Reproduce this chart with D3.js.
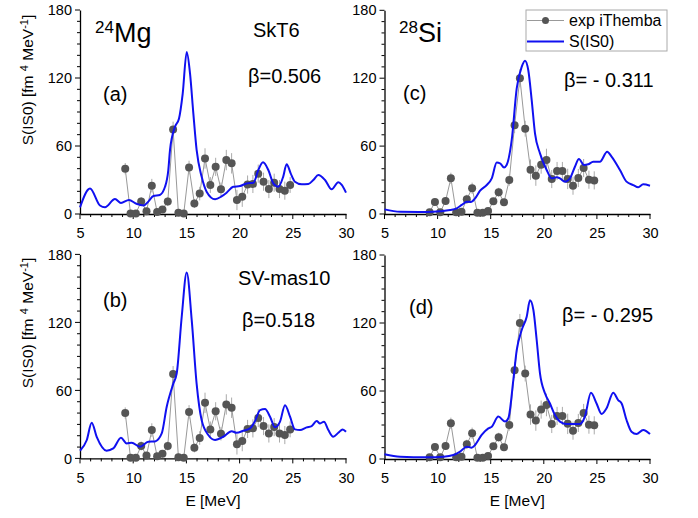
<!DOCTYPE html>
<html>
<head>
<meta charset="utf-8">
<script src="https://cdn.jsdelivr.net/npm/d3@7"></script>
<style>
  html, body { margin: 0; padding: 0; background: #fff; }
  svg { display: block; font-family: "Liberation Sans", Arial, sans-serif; }
</style>
</head>
<body>
<svg id="chart" width="698" height="518"></svg>
<script>
// Experimental IS0 strength (iThemba LABS), energies in MeV
const expE = [9.25, 9.75, 10.25, 10.75, 11.25, 11.75, 12.25, 12.75, 13.25, 13.75, 14.25, 14.75,
              15.25, 15.75, 16.25, 16.75, 17.25, 17.75, 18.25, 18.75, 19.25, 19.75, 20.25, 20.75,
              21.25, 21.75, 22.25, 22.75, 23.25, 23.75, 24.25, 24.75];
const mgExpS = [40, 0.5, 0.5, 11, 2.5, 25, 1.8, 4, 11, 74.5, 1, 0.5,
                41, 9.3, 18, 49, 25.6, 41.6, 21.8, 47.6, 44.7, 12.4, 15.3, 26,
                26.5, 35.6, 28.5, 22, 27.6, 22, 20.6, 25.6];
const mgExpErr = [5, 2, 2, 4, 3, 6, 2, 3, 4, 7, 2, 2,
                  6, 4, 6, 9, 7, 8, 6, 9, 9, 9, 9, 8,
                  8, 8, 8, 8, 8, 8, 8, 7];
const siExpS = [1.5, 10.6, 1.5, 11.5, 31.5, 1.5, 2, 13, 22.7, 1, 1, 2.7,
                11.2, 19.2, 10.3, 30, 78.4, 120, 75.4, 39.2, 33.9, 43.6, 47.7, 30.9,
                38, 38, 31, 25, 31.8, 40.6, 30.3, 29.7];
const siExpErr = [2, 3, 2, 3, 5, 2, 2, 4, 5, 2, 2, 2,
                  3, 4, 3, 5, 7, 8, 7, 9, 9, 8, 10, 8,
                  8, 8, 9, 8, 8, 8, 8, 8];

// Calculated S(IS0) strength functions
const mgSkT6E = [5, 5.94, 6.88, 7.35, 8.29, 8.85, 9.6, 10.3, 11.0, 11.42, 11.9, 12.5, 12.99, 13.3, 13.46, 13.93,
                 14.3, 14.65, 15.03, 15.34, 15.65, 15.96, 16.43, 16.9, 17.7, 18.3, 18.78, 19.4, 20.04, 20.66,
                 21.3, 21.76, 22.2, 22.7, 23.17, 23.64, 24.1, 24.42, 24.8, 25.2, 25.83, 26.46, 26.93,
                 27.4, 28.03, 28.65, 29.28, 29.6, 30];
const mgSkT6S = [5.9, 22.6, 7.5, 6, 13.2, 9.8, 12.4, 9, 7.6, 10.9, 15.9, 16.8, 24, 38.8, 56.5, 77,
                 84, 106, 143, 124, 89, 56.5, 33, 19.7, 13, 15.5, 18.8, 24, 24.7, 27,
                 27.6, 38.8, 45.6, 38.8, 27, 24, 33, 44, 35.9, 28.5, 26.2, 26.5, 30,
                 34.4, 30, 21.8, 28, 25.6, 18.8];

const mgSvE = [5, 5.63, 6.1, 6.57, 7.5, 8.13, 8.85, 9.39, 9.86, 10.64, 11.42, 12.05, 12.68, 13.15, 13.77,
               14.09, 14.56, 15.03, 15.5, 15.96, 16.43, 17.06, 17.69, 18.47, 19.25, 19.72, 20.35, 20.98,
               21.45, 21.92, 22.39, 22.86, 23.33, 23.8, 24.27, 24.74, 25.2, 25.68, 26.3, 26.77, 27.24,
               27.56, 27.93, 28.34, 28.8, 29.28, 29.69, 30];
const mgSvS = [6.8, 16, 31.5, 19, 6.8, 8.8, 18.2, 13.2, 13.8, 10.3, 14.7, 15, 22, 45.6, 66,
               75, 125, 164, 122, 66, 33.8, 20.6, 16.2, 19.1, 24, 22.6, 24.4, 26.5,
               33, 42.6, 43.5, 36.8, 27.4, 32.4, 47, 36.8, 25.6, 25, 27.4, 28.5, 33,
               30.9, 32.4, 25, 19.1, 22.6, 25.6, 23.5];

const siSkT6E = [5, 6.47, 8.98, 10.24, 11.18, 11.8, 12.27, 12.75, 13.15, 13.53, 14, 14.63, 15.1, 15.57,
                 15.88, 16.26, 16.5, 16.98, 17.45, 17.92, 18.23, 18.54, 18.86, 19.17, 19.64, 20.27,
                 20.74, 21.21, 21.52, 21.99, 22.46, 22.93, 23.31, 23.78, 24.18, 24.65, 25.28, 25.97,
                 26.38, 27.17, 27.79, 28.42, 28.89, 29.36, 30];
const siSkT6S = [4.1, 2, 1.8, 2.4, 3.5, 5, 8, 10.9, 10.6, 13.8, 20.6, 25.6, 31.5, 45.4,
                 44.8, 41.2, 43.3, 65.4, 111, 130, 135.5, 127, 100.7, 71.3, 53.6, 38.9,
                 31.5, 32.4, 31.5, 28.6, 31.5, 41.8, 48.6, 43.3, 43.9, 46.2, 46.2, 55,
                 50.7, 38.9, 28.6, 25.6, 23.6, 26.2, 25];

const siSvE = [5, 6.47, 8.98, 10.55, 11.49, 12.12, 12.75, 13.2, 13.53, 14.15, 14.78, 15.1, 15.72,
               16.35, 16.66, 17.13, 17.45, 17.92, 18.39, 18.7, 19.02, 19.33, 19.64, 20.11, 20.58,
               21.05, 21.52, 22.15, 23.4, 23.87, 24.44, 24.97, 25.44, 25.91, 26.54, 27.0, 27.33,
               27.79, 28.26, 28.73, 29.36, 30];
const siSvS = [4.1, 2, 1.5, 2, 3.5, 6.5, 10.9, 10, 12.4, 21.2, 27, 28.5, 37.4,
               33, 35.9, 69.7, 96, 113.8, 125.6, 140, 131.5, 105, 75.6, 58, 49,
               38.8, 33, 30.9, 30.9, 37.4, 58.5, 49, 39.7, 44.7, 58.5, 52, 49,
               34.4, 24, 22, 25.6, 22];

// Axis ticks
const xTicks = [5, 10, 15, 20, 25, 30];
const yTicks = [0, 60, 120, 180];

const svg = d3.select("#chart");
const BLUE = "#1010f0";

const panels = [
  { left: 80,    right: 346, top: 10,    bottom: 214,   E: mgSkT6E, S: mgSkT6S, expS: mgExpS, expErr: mgExpErr, xTitle: false },
  { left: 384.5, right: 650, top: 10.3,  bottom: 214,   E: siSkT6E, S: siSkT6S, expS: siExpS, expErr: siExpErr, xTitle: false },
  { left: 80,    right: 346, top: 254.4, bottom: 458.4, E: mgSvE,   S: mgSvS,   expS: mgExpS, expErr: mgExpErr, xTitle: true },
  { left: 384.5, right: 650, top: 255,   bottom: 459,   E: siSvE,   S: siSvS,   expS: siExpS, expErr: siExpErr, xTitle: true }
];

panels.forEach(p => {
  const x = d3.scaleLinear().domain([5, 30]).range([p.left, p.right]);
  const y = d3.scaleLinear().domain([0, 180]).range([p.bottom, p.top]);
  const g = svg.append("g");

  // minor ticks
  const xMinor = d3.range(5, 30.01, 1);
  const yMinor = d3.range(0, 180.01, 10);
  g.append("g").selectAll("line").data(xMinor).join("line")
    .attr("x1", d => x(d)).attr("x2", d => x(d))
    .attr("y1", p.bottom).attr("y2", d => p.bottom + (d % 5 === 0 ? 5 : 3))
    .attr("stroke", "#000").attr("stroke-width", 1);
  g.append("g").selectAll("line").data(yMinor).join("line")
    .attr("y1", d => y(d)).attr("y2", d => y(d))
    .attr("x1", p.left).attr("x2", d => p.left - (d % 60 === 0 ? 5 : 3))
    .attr("stroke", "#000").attr("stroke-width", 1);

  // axis lines and labels
  const xAxis = d3.axisBottom(x).tickValues(xTicks).tickSize(0).tickPadding(14).tickFormat(d3.format("d"));
  const yAxis = d3.axisLeft(y).tickValues(yTicks).tickSize(0).tickPadding(8).tickFormat(d3.format("d"));
  const gx = g.append("g").attr("transform", `translate(0,${p.bottom})`).call(xAxis);
  const gy = g.append("g").attr("transform", `translate(${p.left},0)`).call(yAxis);
  [gx, gy].forEach(a => {
    a.select(".domain").attr("stroke", "#000").attr("stroke-width", 1.3);
    a.selectAll("text").attr("font-size", 14.5).attr("font-family", "Liberation Sans, Arial, sans-serif").attr("fill", "#000");
  });

  // experimental points: connecting line, error bars, markers
  const expLine = d3.line().x((d, i) => x(expE[i])).y(d => y(d));
  g.append("path").attr("d", expLine(p.expS))
    .attr("fill", "none").attr("stroke", "#999").attr("stroke-width", 1);
  g.append("g").selectAll("line").data(p.expS).join("line")
    .attr("x1", (d, i) => x(expE[i])).attr("x2", (d, i) => x(expE[i]))
    .attr("y1", (d, i) => y(Math.max(0, d - p.expErr[i])))
    .attr("y2", (d, i) => y(d + p.expErr[i]))
    .attr("stroke", "#aaa").attr("stroke-width", 1);
  g.append("g").selectAll("circle").data(p.expS).join("circle")
    .attr("cx", (d, i) => x(expE[i])).attr("cy", d => y(d)).attr("r", 4)
    .attr("fill", "#555");

  // calculated strength
  const line = d3.line().x((d, i) => x(p.E[i])).y(d => y(d)).curve(d3.curveMonotoneX);
  g.append("path").attr("d", line(p.S))
    .attr("fill", "none").attr("stroke", BLUE).attr("stroke-width", 2);

  if (p.xTitle) {
    g.append("text").attr("x", (p.left + p.right) / 2).attr("y", 506)
      .attr("text-anchor", "middle").attr("font-size", 15.5).text("E [MeV]");
  }
});

// y-axis titles
function yTitle(cy) {
  const t = svg.append("text")
    .attr("transform", `translate(33,${cy}) rotate(-90)`)
    .attr("text-anchor", "middle").attr("font-size", 15.5);
  t.append("tspan").text("S(IS0) [fm ");
  t.append("tspan").attr("font-size", 11).attr("dy", -5).text("4");
  t.append("tspan").attr("dy", 5).text(" MeV");
  t.append("tspan").attr("font-size", 11).attr("dy", -5).text("-1");
  t.append("tspan").attr("dy", 5).text("]");
}
yTitle(80);
yTitle(323);

// panel annotations
function label(xp, yp, txt, size) {
  svg.append("text").attr("x", xp).attr("y", yp).attr("font-size", size).text(txt);
}
function nucleus(xp, yp, mass, sym) {
  const t = svg.append("text").attr("x", xp).attr("y", yp).attr("font-size", 27);
  t.append("tspan").attr("font-size", 17).attr("dy", -9).text(mass);
  t.append("tspan").attr("dy", 9).text(sym);
}
nucleus(95, 42, "24", "Mg");
nucleus(399, 42, "28", "Si");
label(253, 37, "SkT6", 20);
label(248, 83, "β=0.506", 20);
label(103, 101, "(a)", 20);
label(403, 100, "(c)", 20);
label(564, 87, "β= - 0.311", 20);
label(238, 285, "SV-mas10", 20);
label(103, 307, "(b)", 20);
label(242, 327, "β=0.518", 20);
label(409, 314, "(d)", 20);
label(562, 322, "β= - 0.295", 20);

// legend
const lg = svg.append("g");
lg.append("rect").attr("x", 526).attr("y", 10).attr("width", 141).attr("height", 41)
  .attr("fill", "#fff").attr("stroke", "#aaa").attr("stroke-width", 1);
lg.append("line").attr("x1", 527).attr("x2", 564).attr("y1", 20.5).attr("y2", 20.5)
  .attr("stroke", "#999").attr("stroke-width", 1);
lg.append("circle").attr("cx", 545.5).attr("cy", 20.5).attr("r", 3.5).attr("fill", "#555");
lg.append("text").attr("x", 569).attr("y", 26).attr("font-size", 16).text("exp iThemba");
lg.append("line").attr("x1", 527).attr("x2", 564).attr("y1", 41.5).attr("y2", 41.5)
  .attr("stroke", BLUE).attr("stroke-width", 2);
lg.append("text").attr("x", 569).attr("y", 47).attr("font-size", 16).text("S(IS0)");
</script>
</body>
</html>
